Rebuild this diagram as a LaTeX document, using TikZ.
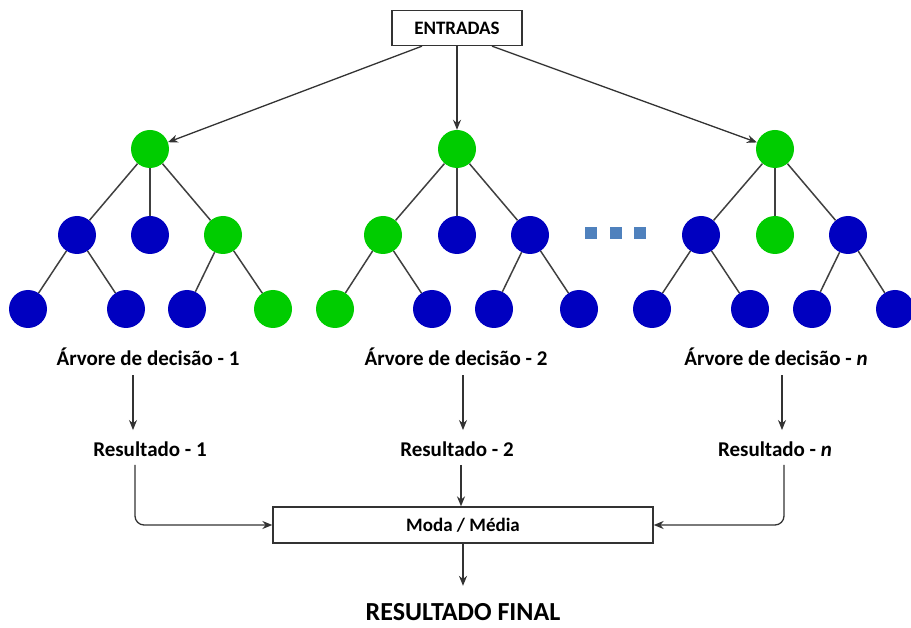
\documentclass[tikz,border=0pt]{standalone}
\usepackage{fontspec}
\setmainfont{Carlito}
\usetikzlibrary{arrows.meta}
\definecolor{treegreen}{RGB}{0,204,0}
\definecolor{treeblue}{RGB}{0,0,192}
\definecolor{dotblue}{RGB}{79,129,189}

\begin{document}
\begin{tikzpicture}[x=1pt, y=-1pt,
  every node/.style={font=\bfseries},
  bnode/.style={circle, inner sep=0pt, minimum size=38pt, fill=treeblue},
  gnode/.style={bnode, fill=treegreen},
  edge/.style={draw=black!75, line width=1.5pt},
  arr/.style={draw=black!80, line width=1.3pt, -{Stealth[length=10pt, width=8pt]}},
  boxnode/.style={draw=black!80, line width=1.3pt, fill=white, inner sep=0pt},
  lbl/.style={font=\fontsize{21}{24}\selectfont\bfseries}]
  \useasboundingbox (0,0) rectangle (911,628);
  \node[boxnode, minimum width=130pt, minimum height=35pt, font=\fontsize{19}{21}\selectfont\bfseries] (entradas) at (457,28) {ENTRADAS};
  \node[gnode] (r1) at (150,149) {};
  \node[bnode] (a1) at (77,235) {};
  \node[bnode] (b1) at (150,235) {};
  \node[gnode] (c1) at (223,235) {};
  \node[bnode] (d1) at (28,309) {};
  \node[bnode] (e1) at (126,309) {};
  \node[bnode] (f1) at (187,309) {};
  \node[gnode] (g1) at (273,309) {};
  \node[gnode] (r2) at (457,149) {};
  \node[gnode] (a2) at (383,235) {};
  \node[bnode] (b2) at (457,235) {};
  \node[bnode] (c2) at (530,235) {};
  \node[gnode] (d2) at (335,309) {};
  \node[bnode] (e2) at (432,309) {};
  \node[bnode] (f2) at (494,309) {};
  \node[bnode] (g2) at (579,309) {};
  \node[gnode] (r3) at (775,149) {};
  \node[bnode] (a3) at (701,235) {};
  \node[gnode] (b3) at (775,235) {};
  \node[bnode] (c3) at (848,235) {};
  \node[bnode] (d3) at (652,309) {};
  \node[bnode] (e3) at (750,309) {};
  \node[bnode] (f3) at (812,309) {};
  \node[bnode] (g3) at (895,309) {};
  \draw[edge] (r1) -- (a1); \draw[edge] (r1) -- (b1); \draw[edge] (r1) -- (c1);
  \draw[edge] (a1) -- (d1); \draw[edge] (a1) -- (e1);
  \draw[edge] (c1) -- (f1); \draw[edge] (c1) -- (g1);
  \draw[edge] (r2) -- (a2); \draw[edge] (r2) -- (b2); \draw[edge] (r2) -- (c2);
  \draw[edge] (a2) -- (d2); \draw[edge] (a2) -- (e2);
  \draw[edge] (c2) -- (f2); \draw[edge] (c2) -- (g2);
  \draw[edge] (r3) -- (a3); \draw[edge] (r3) -- (b3); \draw[edge] (r3) -- (c3);
  \draw[edge] (a3) -- (d3); \draw[edge] (a3) -- (e3);
  \draw[edge] (c3) -- (f3); \draw[edge] (c3) -- (g3);
  \draw[arr] ([xshift=-35pt]entradas.south) -- (r1);
  \draw[arr] (entradas.south) -- (r2);
  \draw[arr] ([xshift=35pt]entradas.south) -- (r3);
  \fill[dotblue] (585,227) rectangle (597,239);
  \fill[dotblue] (610,227) rectangle (622,239);
  \fill[dotblue] (634,227) rectangle (646,239);
  \node[lbl] (tree1) at (148,357) {Árvore de decisão - 1};
  \node[lbl] (tree2) at (456,357) {Árvore de decisão - 2};
  \node[lbl] (tree3) at (776,357) {Árvore de decisão - \textit{n}};
  \node[lbl] (res1) at (150,449) {Resultado - 1};
  \node[lbl] (res2) at (457,449) {Resultado - 2};
  \node[lbl] (res3) at (775,449) {Resultado - \textit{n}};
  \draw[arr, shorten <=6pt, shorten >=8pt] ([xshift=-15pt]tree1.south) -- ([xshift=-15pt]tree1.south |- res1.north);
  \draw[arr, shorten <=6pt, shorten >=8pt] ([xshift=7pt]tree2.south) -- ([xshift=7pt]tree2.south |- res2.north);
  \draw[arr, shorten <=6pt, shorten >=8pt] ([xshift=6pt]tree3.south) -- ([xshift=6pt]tree3.south |- res3.north);
  \node[boxnode, minimum width=380pt, minimum height=36pt, font=\fontsize{19}{21}\selectfont\bfseries] (moda) at (463,525) {Moda / Média};
  \draw[arr, rounded corners=9pt, shorten <=5pt] ([xshift=-15pt]res1.south) |- (moda.west);
  \draw[arr, shorten <=5pt] ([xshift=4pt]res2.south) -- ([xshift=4pt]res2.south |- moda.north);
  \draw[arr, rounded corners=9pt, shorten <=5pt] ([xshift=9pt]res3.south) |- (moda.east);
  \node[font=\fontsize{26}{30}\selectfont\bfseries] (final) at (463,612) {RESULTADO FINAL};
  \draw[arr, shorten >=14pt] (moda.south) -- (final.north);
\end{tikzpicture}
\end{document}
